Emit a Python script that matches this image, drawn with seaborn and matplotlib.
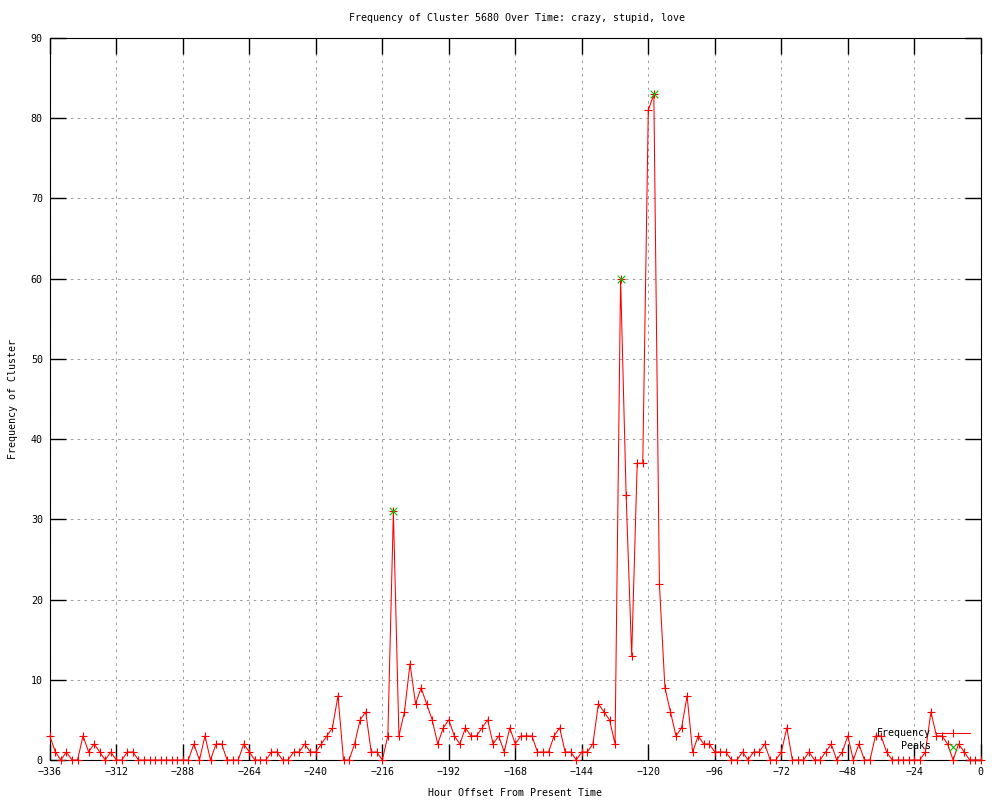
import numpy as np
import matplotlib
matplotlib.use('Agg')
import matplotlib.pyplot as plt
import seaborn as sns

# ------------------------------
# Data
# ------------------------------
hours = np.arange(-336, 1, 2)
freq = [3, 1, 0, 1, 0, 0, 3, 1, 2, 1,
        0, 1, 0, 0, 1, 1, 0, 0, 0, 0,
        0, 0, 0, 0, 0, 0, 2, 0, 3, 0,
        2, 2, 0, 0, 0, 2, 1, 0, 0, 0,
        1, 1, 0, 0, 1, 1, 2, 1, 1, 2,
        3, 4, 8, 0, 0, 2, 5, 6, 1, 1,
        0, 3, 31, 3, 6, 12, 7, 9, 7, 5,
        2, 4, 5, 3, 2, 4, 3, 3, 4, 5,
        2, 3, 1, 4, 2, 3, 3, 3, 1, 1,
        1, 3, 4, 1, 1, 0, 1, 1, 2, 7,
        6, 5, 2, 60, 33, 13, 37, 37, 81, 83,
        22, 9, 6, 3, 4, 8, 1, 3, 2, 2,
        1, 1, 1, 0, 0, 1, 0, 1, 1, 2,
        0, 0, 1, 4, 0, 0, 0, 1, 0, 0,
        1, 2, 0, 1, 3, 0, 2, 0, 0, 3,
        3, 1, 0, 0, 0, 0, 0, 0, 1, 6,
        3, 3, 2, 0, 2, 1, 0, 0, 0]
peak_hours = [-212, -130, -118]
peak_vals = [31, 60, 83]

x_ticks = list(range(-336, 1, 24))
y_ticks = list(range(0, 91, 10))

FONT = 'DejaVu Sans Mono'
FS = 7.2
RED = '#ff0000'
GREEN = '#00c000'

# ------------------------------
# Figure
# ------------------------------
sns.set_style('ticks')
plt.rcParams['font.family'] = [FONT]
plt.rcParams['text.color'] = 'black'
plt.rcParams['axes.labelcolor'] = 'black'
plt.rcParams['xtick.color'] = 'black'
plt.rcParams['ytick.color'] = 'black'

fig = plt.figure(figsize=(10, 8), dpi=100)
ax = fig.add_axes([0.0498, 0.05, 0.931, 0.9025])

sns.lineplot(x=hours, y=freq, ax=ax, color=RED, lw=0.75,
             marker='+', markersize=6, markeredgewidth=0.8,
             markeredgecolor=RED, markerfacecolor=RED,
             label='Frequency', clip_on=False, zorder=3)
sns.scatterplot(x=peak_hours, y=peak_vals, ax=ax, marker='x', color=GREEN,
                s=30, linewidth=0.8, label='Peaks', clip_on=False, zorder=4)

ax.set_xlim(-336, 0)
ax.set_ylim(0, 90)
ax.set_xticks(x_ticks)
ax.set_yticks(y_ticks)
ax.xaxis.set_ticks_position('both')
ax.yaxis.set_ticks_position('both')
ax.tick_params(which='major', direction='in', length=11.5, width=1.0,
               colors='black', labelsize=FS, pad=5)
for s in ax.spines.values():
    s.set_visible(True)
    s.set_color('black')
    s.set_linewidth(0.8)

# gnuplot-like dotted grid at every major tick
ax.grid(True, color='#a0a0a0', linestyle=(0, (2.5, 4)), linewidth=0.75)

ax.set_xlabel('Hour Offset From Present Time', fontsize=FS, va='center')
ax.xaxis.set_label_coords(0.5, -0.0457)
ax.set_ylabel('Frequency of Cluster', fontsize=FS, va='center')
ax.yaxis.set_label_coords(-0.0395, 0.5)

fig.text(0.517, 1 - 18 / 800, 'Frequency of Cluster 5680 Over Time: crazy, stupid, love',
         ha='center', va='center', fontsize=FS)

leg = ax.legend(loc='lower right', bbox_to_anchor=(0.988, 0.012), frameon=False,
                markerfirst=False, fontsize=FS, handlelength=3.4, handletextpad=0.5,
                labelspacing=0.3, borderpad=0, borderaxespad=0)

plt.savefig('out.png', dpi=100)
